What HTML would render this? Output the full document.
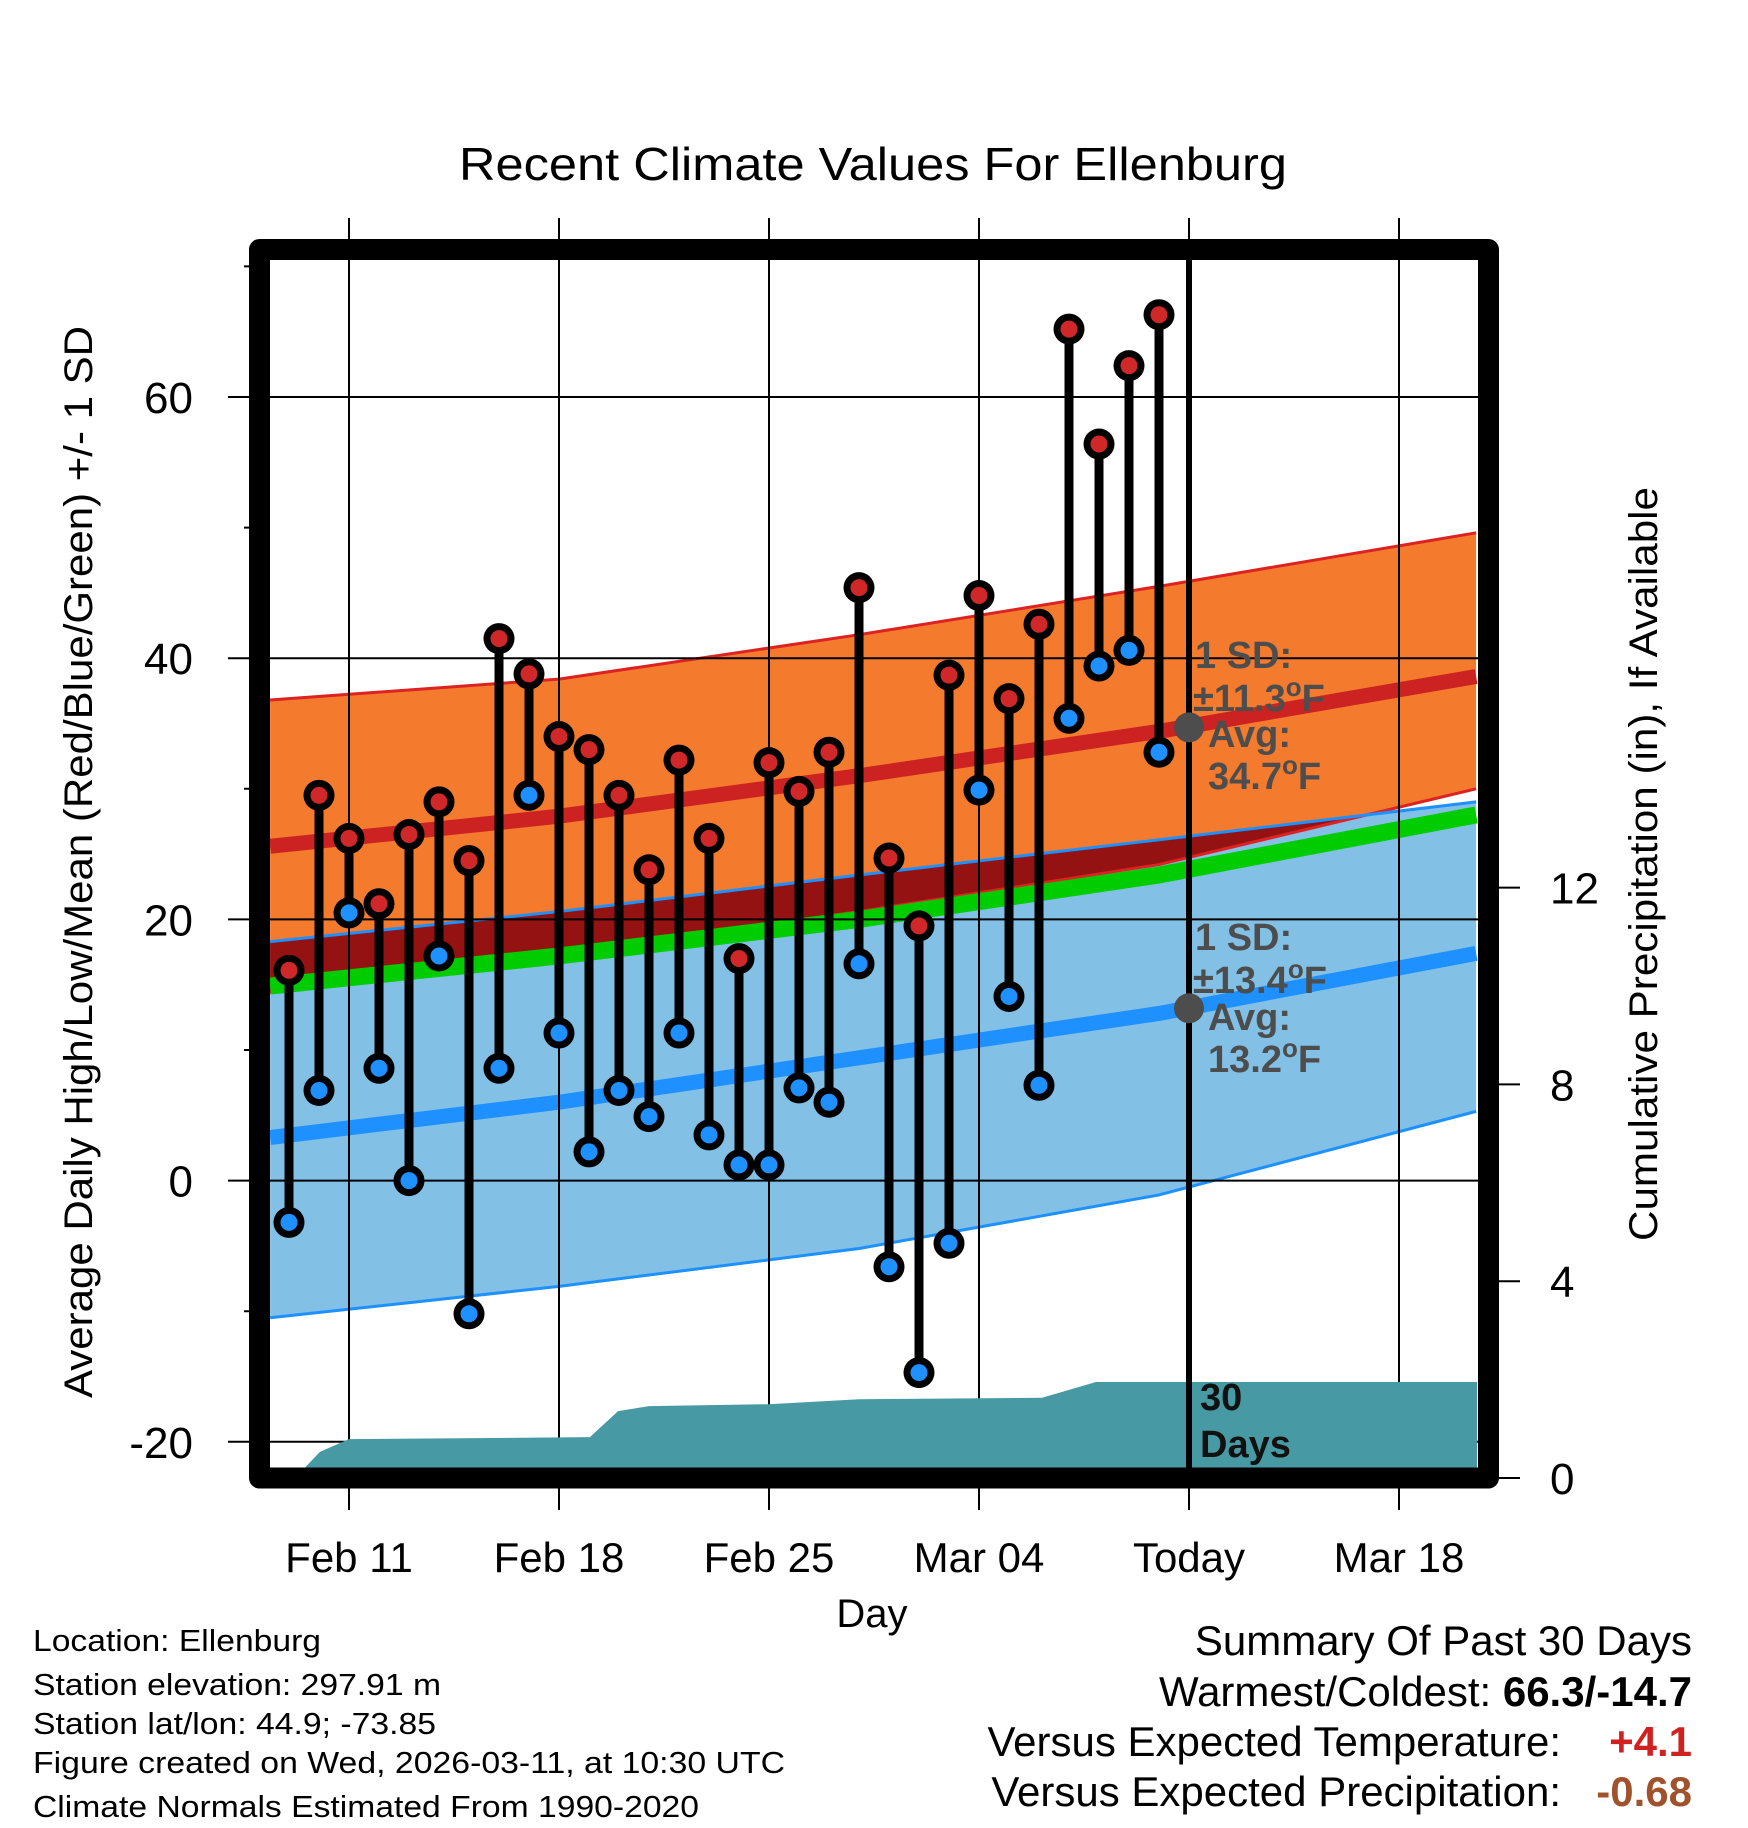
<!DOCTYPE html>
<html><head><meta charset="utf-8"><style>
html,body{margin:0;padding:0;background:#fff}
svg{display:block;font-family:"Liberation Sans",Arial,sans-serif}
</style></head><body>
<svg id="chart" width="1748" height="1828" viewBox="0 0 1748 1828" xmlns="http://www.w3.org/2000/svg">
<defs><clipPath id="plotclip"><rect x="270" y="260" width="1208" height="1208"/></clipPath></defs>
<rect width="1748" height="1828" fill="#fff"/>
<text x="873" y="180" font-size="46" text-anchor="middle" textLength="828" lengthAdjust="spacingAndGlyphs">Recent Climate Values For Ellenburg</text>
<g id="plot" clip-path="url(#plotclip)"></g>
<g id="over"></g>
<text transform="translate(92,862) rotate(-90)" font-size="40" text-anchor="middle" textLength="1072" lengthAdjust="spacingAndGlyphs">Average Daily High/Low/Mean (Red/Blue/Green) +/- 1 SD</text>
<text transform="translate(1657,864) rotate(-90)" font-size="40" text-anchor="middle" textLength="754" lengthAdjust="spacingAndGlyphs">Cumulative Precipitation (in), If Available</text>
<text x="872" y="1627" font-size="40" text-anchor="middle">Day</text>
<g font-size="31">
<text x="33" y="1651" textLength="288" lengthAdjust="spacingAndGlyphs">Location: Ellenburg</text>
<text x="33" y="1695" textLength="408" lengthAdjust="spacingAndGlyphs">Station elevation: 297.91 m</text>
<text x="33" y="1734" textLength="403" lengthAdjust="spacingAndGlyphs">Station lat/lon: 44.9; -73.85</text>
<text x="33" y="1773" textLength="752" lengthAdjust="spacingAndGlyphs">Figure created on Wed, 2026-03-11, at 10:30 UTC</text>
<text x="33" y="1817" textLength="666" lengthAdjust="spacingAndGlyphs">Climate Normals Estimated From 1990-2020</text>
</g>
<g font-size="42">
<text x="1692" y="1655" text-anchor="end">Summary Of Past 30 Days</text>
<text x="1692" y="1706" text-anchor="end">Warmest/Coldest: <tspan font-weight="bold">66.3/-14.7</tspan></text>
<text x="1561" y="1756" text-anchor="end">Versus Expected Temperature:</text>
<text x="1692" y="1756" text-anchor="end" font-weight="bold" fill="#d02020">+4.1</text>
<text x="1561" y="1806" text-anchor="end">Versus Expected Precipitation:</text>
<text x="1692" y="1806" text-anchor="end" font-weight="bold" fill="#a0522d">-0.68</text>
</g>
</svg>
<script>
// observed daily data (day index: Feb 8 = 0)
const obsDays = [1,2,3,4,5,6,7,8,9,10,11,12,13,14,15,16,17,18,19,20,21,22,23,24,25,26,27,28,29,30];
const highs = [16.1,29.5,26.2,21.2,26.5,29,24.5,41.5,38.8,34,33,29.5,23.8,32.2,26.2,17,32,29.8,32.8,45.4,24.7,19.5,38.7,44.8,36.9,42.6,65.2,56.4,62.4,66.3];
const lows = [-3.2,6.9,20.5,8.6,0,17.2,-10.2,8.6,29.5,11.3,2.2,6.9,4.9,11.3,3.5,1.2,1.2,7.1,6,16.6,-6.6,-14.7,-4.8,29.9,14.1,7.3,35.4,39.4,40.6,32.8];
// climate normals
const bandDays = [0.37,10,20,30,40.57];
const highMean = [25.6,27.9,31.0,34.4,38.6];
const highTop = [36.8,38.4,41.8,45.5,49.6];
const highBot = [14.4,17.4,20.6,24.2,30.0];
const lowMean = [3.3,6.0,9.4,12.8,17.4];
const lowTop = [18.3,20.6,23.4,26.1,29.0];
const lowBot = [-10.5,-8.1,-5.2,-1.1,5.3];
const avgMean = [14.9,17.2,20.0,23.4,28.0];
// cumulative precipitation
const precipDays = [1.2,2.03,3,11.03,11.97,13,17,20,26.1,27.9,40.6];
const precipVals = [0,0.53,0.79,0.83,1.36,1.46,1.5,1.6,1.63,1.95,1.95];
// ticks
const yTicks = [-20,0,20,40,60];
const yMinor = [-10,10,30,50,70];
const y2Ticks = [0,4,8,12];
const xTickDays = [3,10,17,24,31,38];
const xTickLabels = ["Feb 11","Feb 18","Feb 25","Mar 04","Today","Mar 18"];
const todayDay = 31;

const NS="http://www.w3.org/2000/svg";
const X=d=>349+(d-3)*30;
const Y=v=>1180.6-13.06*v;
const P=v=>1478-49.2*v;
const plot=document.getElementById('plot');
const over=document.getElementById('over');
function mk(tag,attrs,parent){const e=document.createElementNS(NS,tag);for(const k in attrs)e.setAttribute(k,attrs[k]);parent.appendChild(e);return e;}
function interp(xs,ys,d){if(d<=xs[0])return ys[0];for(let i=1;i<xs.length;i++){if(d<=xs[i]){const t=(d-xs[i-1])/(xs[i]-xs[i-1]);return ys[i-1]+t*(ys[i]-ys[i-1]);}}return ys[ys.length-1];}
const fine=[];for(let d=bandDays[0];d<=bandDays[bandDays.length-1]+1e-6;d+=0.1)fine.push(d);
function linePts(arr){return bandDays.map((d,i)=>X(d)+','+Y(arr[i])).join(' ');}
function bandPts(top,bot){return bandDays.map((d,i)=>X(d)+','+Y(top[i])).concat(bandDays.slice().reverse().map((d,j)=>X(d)+','+Y(bot[bot.length-1-j]))).join(' ');}

let e;
e=mk('polygon',{points:bandPts(lowTop,lowBot),fill:'#82c0e6'},plot);


e=mk('polygon',{points:bandPts(highTop,highBot),fill:'#f47a2e'},plot);


const ovTop=fine.map(d=>X(d)+','+Y(interp(bandDays,lowTop,d)));
const ovBot=fine.slice().reverse().map(d=>{const t=interp(bandDays,lowTop,d),b=interp(bandDays,highBot,d);return X(d)+','+Y(Math.min(t,b));});
e=mk('polygon',{points:ovTop.concat(ovBot).join(' '),fill:'#951212'},plot);


[[highTop,'#dd2222'],[highBot,'#dd2222'],[lowTop,'#1e90ff'],[lowBot,'#1e90ff']].forEach(([a,c])=>{
 const l=mk('polyline',{points:linePts(a),fill:'none',stroke:c,'stroke-width':3},plot);
 
 
});
e=mk('polyline',{points:linePts(avgMean),fill:'none',stroke:'#00cc00','stroke-width':17},plot);


e=mk('polyline',{points:linePts(lowMean),fill:'none',stroke:'#1e90ff','stroke-width':15},plot);


e=mk('polyline',{points:linePts(highMean),fill:'none',stroke:'#cc2222','stroke-width':15},plot);



yTicks.forEach(v=>{
 const g=mk('line',{x1:228,x2:1478,y1:Y(v),y2:Y(v),stroke:'#000','stroke-width':2},over);
 
 
 const t=mk('text',{x:193,y:Y(v)+16,'font-size':44,'text-anchor':'end'},over);
 t.textContent=v;
 
 
});
yMinor.forEach(v=>{
 const g=mk('line',{x1:244,x2:270,y1:Y(v),y2:Y(v),stroke:'#000','stroke-width':2},over);
 
 
});
xTickDays.forEach((d,i)=>{
 const g=mk('line',{x1:X(d),x2:X(d),y1:218,y2:1510,stroke:'#000','stroke-width':2},over);
 
 
 const t=mk('text',{x:X(d),y:1572,'font-size':42,'text-anchor':'middle'},over);
 t.textContent=xTickLabels[i];
 
 
});
y2Ticks.forEach(v=>{
 const g=mk('line',{x1:1499,x2:1520,y1:P(v),y2:P(v),stroke:'#000','stroke-width':2},over);
 
 
 const t=mk('text',{x:1550,y:P(v)+16,'font-size':44},over);
 t.textContent=v;
 
 
});

const pp=precipDays.map((d,i)=>X(d)+','+P(precipVals[i]));
pp.push(X(precipDays[precipDays.length-1])+','+P(0));pp.push(X(precipDays[0])+','+P(0));
const pg=mk('g',{'clip-path':'url(#plotclip)'},over);
e=mk('polygon',{points:pp.join(' '),fill:'#4799a3'},pg);



obsDays.forEach((d,i)=>{
 const s=mk('line',{x1:X(d),x2:X(d),y1:Y(highs[i]),y2:Y(lows[i]),stroke:'#000','stroke-width':9},over);
 
 
});
obsDays.forEach((d,i)=>{
 [[highs[i],'#d02828','high-marker'],[lows[i],'#1e90ff','low-marker']].forEach(([v,c,n])=>{
  const o=mk('circle',{cx:X(d),cy:Y(v),r:15.5,fill:'#000'},over);
  
  
  const c2=mk('circle',{cx:X(d),cy:Y(v),r:8.5,fill:c},over);
  
  
 });
});

e=mk('line',{x1:X(todayDay),x2:X(todayDay),y1:260,y2:1468,stroke:'#000','stroke-width':6},over);


[[34.7],[13.2]].forEach(([v])=>{
 const c=mk('circle',{cx:X(todayDay),cy:Y(v),r:15,fill:'#4d4d4d'},over);
 
 
});
function ann(lines,name){
 lines.forEach(([x,y,txt,deg])=>{
  const t=mk('text',{x:x,y:y,'font-size':38,'font-weight':'bold',fill:'#4d4d4d'},over);
  
  
  t.appendChild(document.createTextNode(txt));
  if(deg){const s=mk('tspan',{dy:-15,'font-size':26},t);s.textContent='o';const f=mk('tspan',{dy:15},t);f.textContent='F';}
 });
}
ann([[1195,668,'1 SD:',false],[1193,711,'\u00b111.3',true],[1208,747,'Avg:',false],[1208,789,'34.7',true]],'high-normal-annotation');
ann([[1195,950,'1 SD:',false],[1193,993,'\u00b113.4',true],[1208,1030,'Avg:',false],[1208,1072,'13.2',true]],'low-normal-annotation');
['30','Days'].forEach((s,i)=>{
 const t=mk('text',{x:1200,y:i?1457:1410,'font-size':38,'font-weight':'bold',fill:'#111'},over);
 t.textContent=s;
 
 
});
e=mk('rect',{x:259.5,y:249.5,width:1229,height:1228.5,fill:'none',stroke:'#000','stroke-width':21,'stroke-linejoin':'round'},over);


</script>
</body></html>
